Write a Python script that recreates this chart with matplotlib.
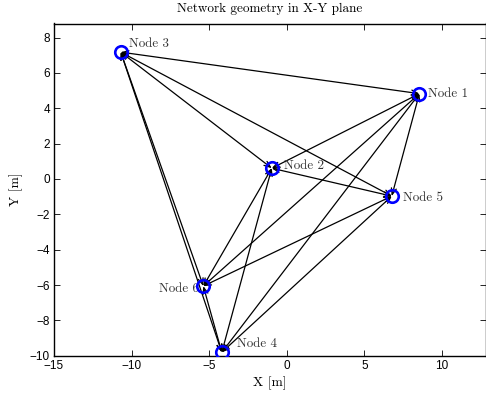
import matplotlib
matplotlib.use("Agg")
import matplotlib.pyplot as plt
from itertools import combinations

# ── Data ─────────────────────────────────────────────────────────────────────
node_names = ["Node 1", "Node 2", "Node 3", "Node 4", "Node 5", "Node 6"]
node_x = [8.54, -0.97, -10.70, -4.19, 6.76, -5.38]
node_y = [4.83, 0.61, 7.18, -9.81, -0.97, -6.06]
x_ticks = [-15, -10, -5, 0, 5, 10]
y_ticks = [-10, -8, -6, -4, -2, 0, 2, 4, 6, 8]

# label offsets in points (dx, dy) and horizontal alignment
label_offsets = [(6, 0), (9, 2), (6, 6), (11, 6), (8, -1), (-3, -2)]
label_ha = ["left", "left", "left", "left", "left", "right"]

SERIF = "cmr10"
TICKFONT = "Liberation Sans"

fig = plt.figure(figsize=(4.86, 4.01), dpi=100)
ax = fig.add_axes([54 / 486, 1 - 355.7 / 401, 431.5 / 486, 332.2 / 401])

# every pair of nodes joined by an arrow
for i, j in combinations(range(len(node_x)), 2):
    ax.annotate("", xy=(node_x[j], node_y[j]), xytext=(node_x[i], node_y[i]),
                arrowprops=dict(arrowstyle="<->,head_length=0.45,head_width=0.18",
                                color="black", lw=0.9, shrinkA=0, shrinkB=0))

ax.plot(node_x, node_y, "o", ls="none", mfc="none", mec="#0000ff",
        ms=9, mew=1.9, zorder=5)

for name, x, y, off, ha in zip(node_names, node_x, node_y, label_offsets, label_ha):
    ax.annotate(name, (x, y), xytext=off, textcoords="offset points",
                ha=ha, va="center", fontsize=9.4, family=SERIF, color="#333333")

ax.set_xlim(-15, 12.8)
ax.set_ylim(-10, 8.8)
ax.set_xticks(x_ticks)
ax.set_yticks(y_ticks)
ax.set_xticklabels([f"\u2212{abs(v)}" if v < 0 else str(v) for v in x_ticks],
                   family=TICKFONT, fontsize=8.5)
ax.set_yticklabels([f"\u2212{abs(v)}" if v < 0 else str(v) for v in y_ticks],
                   family=TICKFONT, fontsize=8.5)
ax.tick_params(direction="in", length=4, width=0.6, top=True, right=True, pad=3)
for s in ax.spines.values():
    s.set_linewidth(1.0)

ax.set_xlabel("X [m]", family=SERIF, fontsize=9.8, labelpad=3)
ax.set_ylabel("Y [m]", family=SERIF, fontsize=9.8, labelpad=5)
ax.set_title("Network geometry in X-Y plane", family=SERIF, fontsize=9.5, pad=8)

fig.savefig("out.png", dpi=100)
